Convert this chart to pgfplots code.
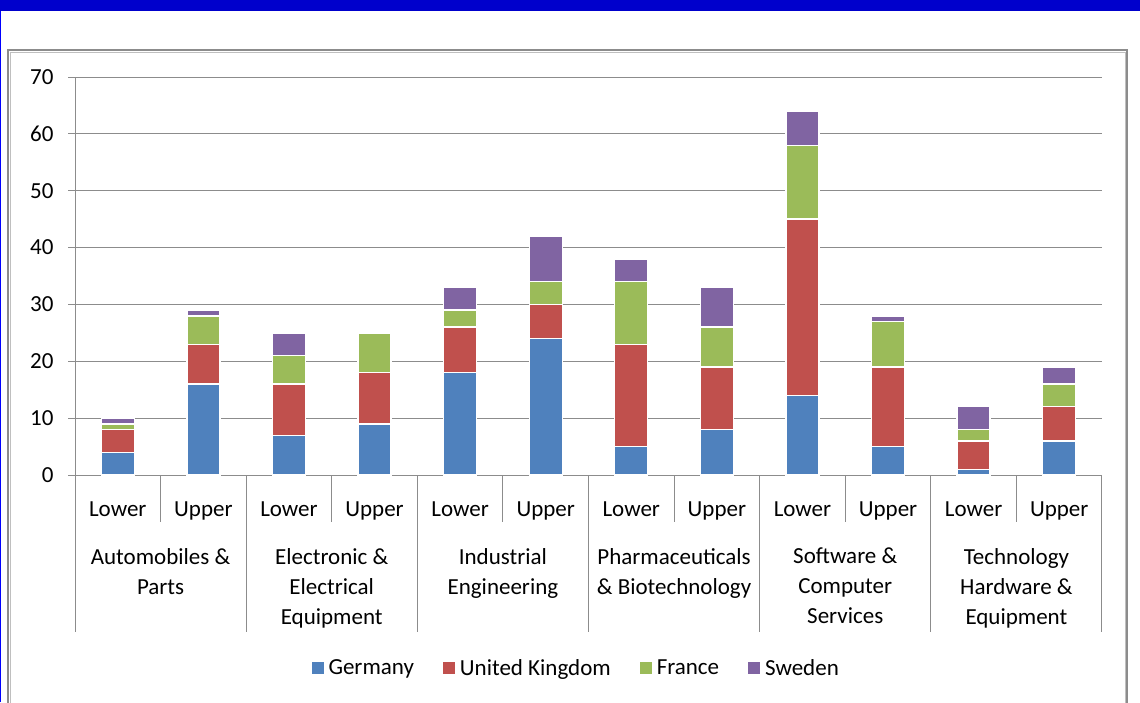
\documentclass[border=0pt]{standalone}
\usepackage{fontspec}
\setmainfont{Carlito}
\usepackage{pgfplots}
\pgfplotsset{compat=1.18}
\definecolor{cG}{HTML}{4F81BD}
\definecolor{cU}{HTML}{C0504D}
\definecolor{cF}{HTML}{9BBB59}
\definecolor{cS}{HTML}{8064A2}
\definecolor{hdr}{HTML}{0000CC}
\definecolor{ln}{HTML}{8C8C8C}
\newcommand{\lf}{\fontsize{23}{30}\selectfont}
\begin{document}
\begin{tikzpicture}[x=1pt,y=1pt]
\fill[white] (0,0) rectangle (1140,702);
\fill[hdr] (0,691) rectangle (1140,702);
\draw[blue, line width=1pt] (0.5,0) -- (0.5,691);
\draw[ln, line width=2pt] (8,-5) -- (8,652) -- (1127,652) -- (1127,-5);
\draw[black!25, line width=1pt] (10,-5) -- (10,649.5) -- (1125,649.5) -- (1125,-5);
\begin{axis}[
  at={(75pt,227pt)}, anchor=south west,
  scale only axis, width=1027pt, height=398pt,
  xmin=-0.5, xmax=11.5, ymin=0, ymax=70,
  ytick={0,10,...,70}, xtick=\empty,
  ybar stacked, bar width=33pt,
  axis x line*=bottom, axis y line*=left,
  axis line style={ln, line width=1pt},
  ymajorgrids, grid style={ln, line width=1pt},
  major tick length=7pt, ytick align=outside, ytick pos=left, tick style={ln, line width=1pt},
  tick label style={font=\lf},
  yticklabel style={xshift=-11pt},
  /pgf/number format/assume math mode=true,
  clip=false,
  every axis plot/.append style={draw=white, line width=1.4pt},
  legend columns=4,
  legend style={at={(0.488,-0.485)}, anchor=center, draw=none, font=\lf, inner sep=0pt,
    /tikz/every odd column/.append style={column sep=3pt},
    /tikz/every even column/.append style={column sep=27pt}},
  legend image code/.code={\path[#1,draw=none] (0pt,-6pt) rectangle (12pt,6pt);},
]
\addplot[fill=cG] coordinates {(0,4) (1,16) (2,7) (3,9) (4,18) (5,24) (6,5) (7,8) (8,14) (9,5) (10,1) (11,6)};
\addplot[fill=cU] coordinates {(0,4) (1,7) (2,9) (3,9) (4,8) (5,6) (6,18) (7,11) (8,31) (9,14) (10,5) (11,6)};
\addplot[fill=cF] coordinates {(0,1) (1,5) (2,5) (3,7) (4,3) (5,4) (6,11) (7,7) (8,13) (9,8) (10,2) (11,4)};
\addplot[fill=cS] coordinates {(0,1) (1,1) (2,4) (3,0) (4,4) (5,8) (6,4) (7,7) (8,6) (9,1) (10,4) (11,3)};
\legend{Germany, United Kingdom, France, Sweden}
\pgfplotsinvokeforeach{-0.5,1.5,3.5,5.5,7.5,9.5,11.5}{\draw[ln,line width=1pt] (axis cs:#1,0) -- ++(0pt,-157pt);}
\pgfplotsinvokeforeach{0.5,2.5,4.5,6.5,8.5,10.5}{\draw[ln,line width=1pt] (axis cs:#1,0) -- ++(0pt,-47pt);}
\pgfplotsinvokeforeach{0,2,4,6,8,10}{\node[anchor=base, yshift=-41.5pt, font=\lf] at (axis cs:#1,0) {Lower};}
\pgfplotsinvokeforeach{1,3,5,7,9,11}{\node[anchor=base, yshift=-41.5pt, font=\lf] at (axis cs:#1,0) {Upper};}
\node[align=center, anchor=north, yshift=-73pt, font=\lf, inner sep=0pt] at (axis cs:0.5,0) {Automobiles \&\\Parts};
\node[align=center, anchor=north, yshift=-73pt, font=\lf, inner sep=0pt] at (axis cs:2.5,0) {Electronic \&\\Electrical\\Equipment};
\node[align=center, anchor=north, yshift=-73pt, font=\lf, inner sep=0pt] at (axis cs:4.5,0) {Industrial\\Engineering};
\node[align=center, anchor=north, yshift=-73pt, font=\lf, inner sep=0pt] at (axis cs:6.5,0) {Pharmaceuticals\\\& Biotechnology};
\node[align=center, anchor=north, yshift=-73pt, font=\lf, inner sep=0pt] at (axis cs:8.5,0) {Software \&\\Computer\\Services};
\node[align=center, anchor=north, yshift=-73pt, font=\lf, inner sep=0pt] at (axis cs:10.5,0) {Technology\\Hardware \&\\Equipment};
\end{axis}
\pgfresetboundingbox
\useasboundingbox (0,0) rectangle (1140,702);
\end{tikzpicture}
\end{document}
